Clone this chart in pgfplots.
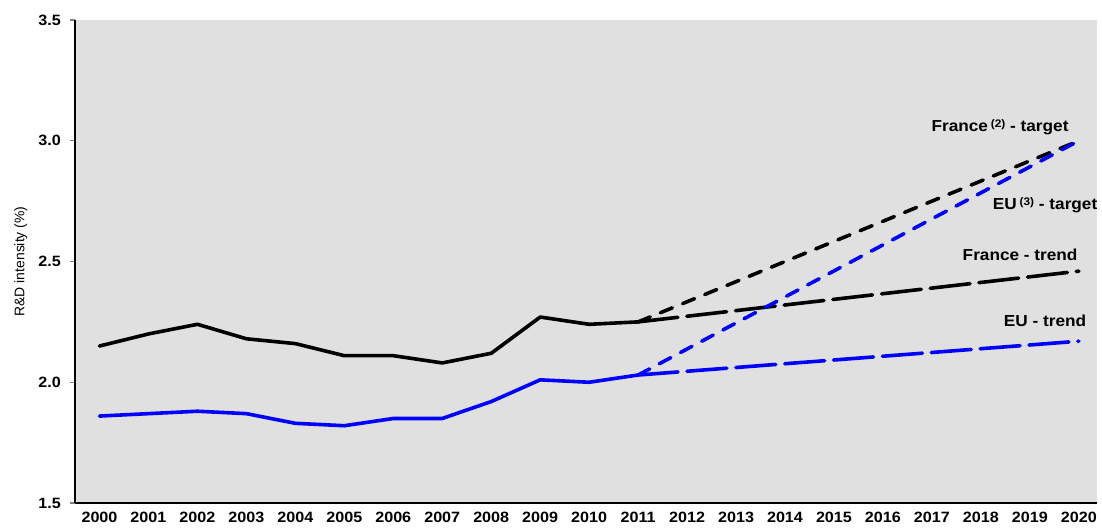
\documentclass[border=0pt]{standalone}
\usepackage{pgfplots}
\pgfplotsset{compat=1.18}
\usepackage{fontspec}
\setmainfont{Liberation Sans}
\definecolor{bgray}{RGB}{224,224,224}
\definecolor{eublue}{RGB}{0,0,255}
\begin{document}
\begin{tikzpicture}
\begin{axis}[
  scale only axis, width=1022bp, height=483bp,
  xmin=1999.5, xmax=2020.37, ymin=1.5, ymax=3.5,
  axis x line*=bottom, axis y line*=left,
  axis line style={line width=2.4bp},
  axis background/.style={fill=bgray},
  xtick={2000,...,2020},
  ytick={1.5,2.0,2.5,3.0,3.5},
  xtick style={draw=none},
  ytick style={line width=1.5bp},
  tick align=outside, major tick length=5bp,
  /pgf/number format/assume math mode=true,
  x tick label style={/pgf/number format/1000 sep={}, font=\fontsize{15}{15}\selectfont\bfseries, xscale=1.08, yshift=-1bp},
  y tick label style={/pgf/number format/fixed, /pgf/number format/fixed zerofill, /pgf/number format/precision=1, font=\fontsize{15}{15}\selectfont\bfseries, xscale=1.08, xshift=-5bp},
  ylabel={R\&D intensity (\%)},
  ylabel style={font=\fontsize{14}{14}\selectfont, yshift=4bp},
  clip=false,
  every axis plot/.append style={line width=3.6bp, line cap=round, line join=round},
]
% France observed
\addplot[black] coordinates {
 (2000,2.15) (2001,2.20) (2002,2.24) (2003,2.18) (2004,2.16) (2005,2.11)
 (2006,2.11) (2007,2.08) (2008,2.12) (2009,2.27) (2010,2.24) (2011,2.25)};
% EU observed
\addplot[eublue] coordinates {
 (2000,1.86) (2001,1.87) (2002,1.88) (2003,1.87) (2004,1.83) (2005,1.82)
 (2006,1.85) (2007,1.85) (2008,1.92) (2009,2.01) (2010,2.00) (2011,2.03)};
% France trend
\addplot[black, dash pattern=on 40bp off 9bp] coordinates {(2011,2.25) (2020,2.46)};
% France target
\addplot[black, dash pattern=on 13bp off 11bp] coordinates {(2011,2.25) (2020,3.00)};
% EU trend
\addplot[eublue, dash pattern=on 40bp off 9bp] coordinates {(2011,2.03) (2020,2.17)};
% EU target
\addplot[eublue, dash pattern=on 13bp off 11bp] coordinates {(2011,2.03) (2020,3.00)};
\tikzset{lbl/.style={font=\fontsize{16}{16}\selectfont\bfseries, xscale=1.08}}
\node[lbl] at (axis cs:2018.39,3.057) {France\,{\fontsize{11}{11}\selectfont\raisebox{4bp}{(2)}} - target};
\node[lbl] at (axis cs:2019.31,2.734) {EU\,{\fontsize{11}{11}\selectfont\raisebox{4bp}{(3)}} - target};
\node[lbl] at (axis cs:2018.80,2.527) {France - trend};
\node[lbl] at (axis cs:2019.31,2.254) {EU - trend};
\end{axis}
\path[use as bounding box] ([shift={(-75bp,-24bp)}]current axis.south west) rectangle ([shift={(5bp,20bp)}]current axis.north east);
\end{tikzpicture}
\end{document}
